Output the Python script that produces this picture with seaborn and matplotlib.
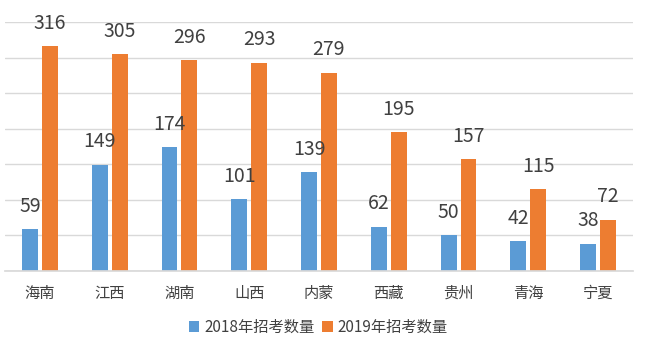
import matplotlib
matplotlib.use("Agg")
import matplotlib.pyplot as plt
import seaborn as sns
import pandas as pd
import numpy as np

categories = ["海南", "江西", "湖南", "山西", "内蒙", "西藏", "贵州", "青海", "宁夏"]
v2018 = [59, 149, 174, 101, 139, 62, 50, 42, 38]
v2019 = [316, 305, 296, 293, 279, 195, 157, 115, 72]
series = ["2018年招考数量", "2019年招考数量"]

sns.set_theme(style="white")
plt.rcParams['font.family'] = ['Noto Sans CJK SC', 'DejaVu Sans']

df = pd.DataFrame({
    "省份": categories * 2,
    "数量": v2018 + v2019,
    "系列": [series[0]] * len(categories) + [series[1]] * len(categories),
})

fig = plt.figure(figsize=(6.48, 3.48), dpi=100)
ax = fig.add_axes([5/648, (348-271)/348, 628/648, (271-22)/348])
sns.barplot(data=df, x="省份", y="数量", hue="系列", palette=["#5B9BD5", "#ED7D31"],
            saturation=1, width=0.57, gap=0.2, ax=ax, legend=True, linewidth=0)

ax.set_ylim(0, 350)
ax.set_xlim(-0.5, len(categories) - 0.5)
ax.set_yticks(np.arange(0, 351, 50))
ax.yaxis.grid(True, color="#D9D9D9", linewidth=1)
ax.set_axisbelow(True)
ax.tick_params(axis="y", left=False, labelleft=False)
ax.set_xlabel("")
ax.set_ylabel("")
for s in ["top", "right", "left"]:
    ax.spines[s].set_visible(False)
ax.spines["bottom"].set_color("#D9D9D9")
ax.set_xticks(range(len(categories)))
ax.set_xticklabels(categories, fontsize=11, color="#404040")
ax.tick_params(axis="x", which="major", length=0, pad=10)
ax.set_xticks(np.arange(-0.5, len(categories), 1), minor=True)
ax.tick_params(axis="x", which="minor", length=5, color="#D9D9D9", width=1)

for cont in ax.containers:
    for bar in cont:
        h = bar.get_height()
        ax.annotate(f"{int(round(h))}", (bar.get_x() + bar.get_width() / 2, h),
                    xytext=(0, 9), textcoords="offset points", ha="center", va="bottom",
                    fontsize=14, color="#404040")

leg = ax.legend(loc="center", bbox_to_anchor=(318/648, 1 - 327/348), bbox_transform=fig.transFigure,
                ncol=2, frameon=False, fontsize=11, handlelength=0.7, handleheight=0.7,
                handletextpad=0.3, columnspacing=0.5, labelcolor="#404040")

fig.savefig("out.png", dpi=100)
